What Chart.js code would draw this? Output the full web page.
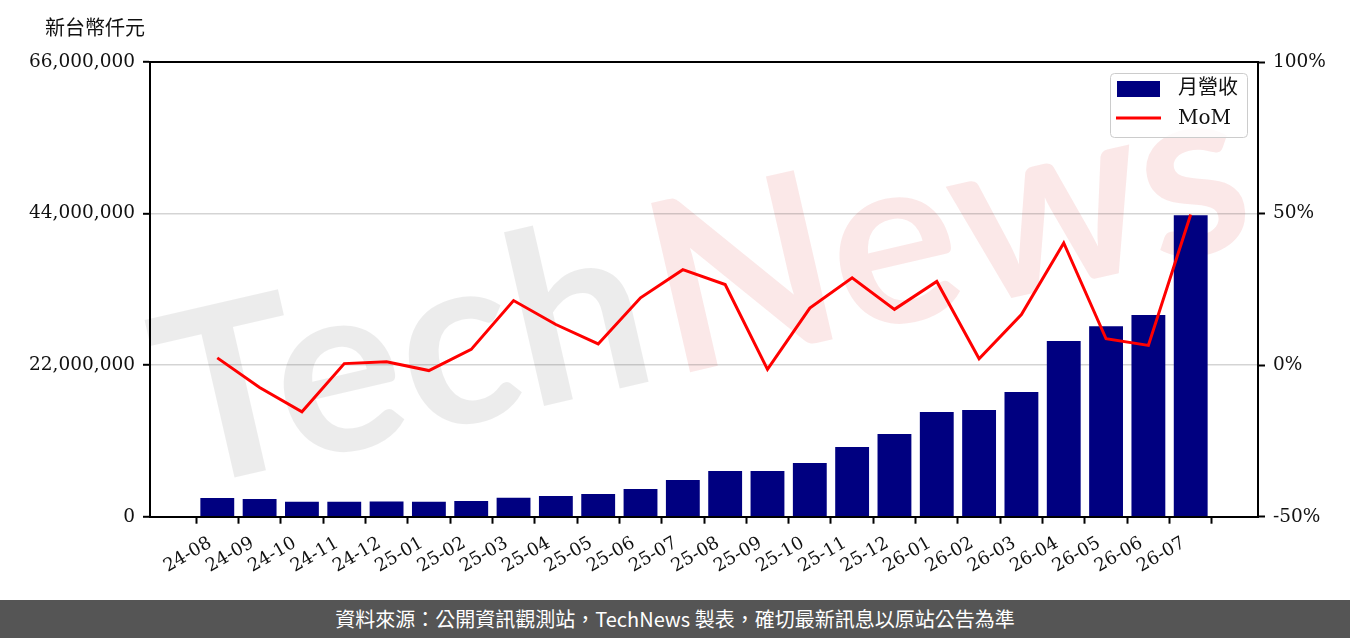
<!DOCTYPE html>
<html>
<head>
<meta charset="utf-8">
<script src="https://cdn.jsdelivr.net/npm/chart.js@4.4.1/dist/chart.umd.min.js"></script>
<style>
  html, body { margin: 0; padding: 0; background: #fff; overflow: hidden; }
  #wrap { width: 1350px; height: 600px; position: relative; }
  #footer { width: 1350px; height: 38px; background: #555555; color: #fff;
    font: 20px "Noto Sans CJK TC", "Noto Sans", sans-serif; line-height: 38px; text-align: center; }
</style>
</head>
<body>
<div id="wrap"><canvas id="c" width="1350" height="600"></canvas></div>
<div id="footer">資料來源：公開資訊觀測站，TechNews 製表，確切最新訊息以原站公告為準</div>
<script>
// ---- data ----
const categories = ["24-08","24-09","24-10","24-11","24-12","25-01","25-02","25-03","25-04","25-05","25-06","25-07",
  "25-08","25-09","25-10","25-11","25-12","26-01","26-02","26-03","26-04","26-05","26-06","26-07"];
const revenue = [2710000, 2570000, 2170000, 2180000, 2200000, 2160000, 2270000, 2740000, 3000000, 3290000, 4020000, 5320000,
  6630000, 6630000, 7790000, 10100000, 12000000, 15190000, 15480000, 18090000, 25490000, 27660000, 29260000, 43770000];
const mom = [2.4, -7.4, -15.4, 0.5, 1.1, -1.8, 5.2, 21.3, 13.4, 7.0, 22.2, 31.5,
  26.6, -1.4, 18.8, 28.8, 18.4, 27.6, 2.1, 16.7, 40.3, 8.7, 6.5, 49.7];
const leftTicks = [0, 22000000, 44000000, 66000000];
const rightTicks = [-50, 0, 50, 100];
const seriesNames = ["月營收", "MoM"];
const unitLabel = "新台幣仟元";
const watermarkParts = ["Tech", "News"];

// ---- styles ----
const NAVY = "#000080", RED = "#ff0000";
const SERIF = "'DejaVu Serif', 'Noto Sans CJK TC', serif";
const yFont = { family: SERIF, size: 18.5 };
const xFont = { family: SERIF, size: 18 };

const n = categories.length;
const xPad = 0.4 + 0.05 * (n - 1 + 0.8);

const framePlugin = {
  id: 'frame',
  beforeDraw(chart) {
    const ctx = chart.ctx;
    ctx.save();
    ctx.translate(180, 490);
    ctx.rotate(-13 * Math.PI / 180);
    ctx.font = "bold 240px Lato";
    ctx.textBaseline = "alphabetic";
    ctx.fillStyle = "rgba(0,0,0,0.075)";
    ctx.fillText(watermarkParts[0], 0, 0);
    const w0 = ctx.measureText(watermarkParts[0]).width;
    ctx.fillStyle = "rgba(220,50,50,0.11)";
    ctx.fillText(watermarkParts[1], w0 + 10, 0);
    ctx.restore();
  },
  afterDraw(chart) {
    const ctx = chart.ctx, ca = chart.chartArea;
    ctx.save();
    // top frame line
    ctx.strokeStyle = "#000"; ctx.lineWidth = 2;
    ctx.beginPath(); ctx.moveTo(ca.left - 1, ca.top); ctx.lineTo(ca.right + 1, ca.top); ctx.stroke();
    // unit label
    ctx.fillStyle = "#111";
    ctx.font = "20px 'Noto Sans CJK TC'";
    ctx.textBaseline = "middle"; ctx.textAlign = "left";
    ctx.fillText(unitLabel, 45, 27);
    // legend
    const w = 137, h = 64;
    const lx = ca.right - 11 - w, ly = ca.top + 11;
    ctx.fillStyle = "rgba(255,255,255,0.85)";
    ctx.strokeStyle = "#cccccc"; ctx.lineWidth = 1;
    ctx.beginPath();
    if (ctx.roundRect) ctx.roundRect(lx + 0.5, ly + 0.5, w, h, 4); else ctx.rect(lx + 0.5, ly + 0.5, w, h);
    ctx.fill(); ctx.stroke();
    const ds = chart.data.datasets;
    ctx.fillStyle = ds[1].backgroundColor;
    ctx.fillRect(lx + 7, ly + 8, 43, 16);
    ctx.strokeStyle = ds[0].borderColor; ctx.lineWidth = 3;
    ctx.beginPath(); ctx.moveTo(lx + 6, ly + 45); ctx.lineTo(lx + 51, ly + 45); ctx.stroke();
    ctx.fillStyle = "#111";
    ctx.font = "20px " + SERIF;
    ctx.fillText(ds[1].label, lx + 68, ly + 16);
    ctx.fillText(ds[0].label, lx + 68, ly + 46);
    ctx.restore();
  }
};

new Chart(document.getElementById('c'), {
  type: 'bar',
  data: {
    datasets: [
      {
        type: 'line', label: seriesNames[1], yAxisID: 'y2', order: 0,
        data: mom.map((v, i) => ({ x: i, y: v })),
        borderColor: RED, borderWidth: 3, pointRadius: 0, tension: 0, fill: false
      },
      {
        type: 'bar', label: seriesNames[0], yAxisID: 'y', order: 1,
        data: revenue.map((v, i) => ({ x: i, y: v })),
        backgroundColor: NAVY, borderWidth: 0,
        categoryPercentage: 1.0, barPercentage: 0.8
      }
    ]
  },
  options: {
    responsive: false, animation: false,
    layout: { padding: { top: 62, left: 0, right: 0, bottom: 0 } },
    plugins: { legend: { display: false }, tooltip: { enabled: false } },
    scales: {
      x: {
        type: 'linear', min: -xPad, max: n - 1 + xPad, offset: false,
        afterBuildTicks: s => { s.ticks = categories.map((c, i) => ({ value: i })); },
        afterFit: s => { s.height = 83.3; },
        ticks: { callback: v => categories[v], minRotation: 30, maxRotation: 30, autoSkip: false,
          font: xFont, color: '#111', padding: 9, labelOffset: -7 },
        grid: { drawOnChartArea: false, drawTicks: true, tickLength: 7, tickColor: '#000', tickWidth: 2 },
        border: { color: '#000', width: 2 }
      },
      y: {
        position: 'left', min: leftTicks[0], max: leftTicks[leftTicks.length - 1],
        afterBuildTicks: s => { s.ticks = leftTicks.map(v => ({ value: v })); },
        afterFit: s => { s.width = 150; },
        ticks: { callback: v => v.toLocaleString('en-US'), font: yFont, color: '#111', padding: 8 },
        grid: {
          color: c => (c.tick && (c.tick.value === leftTicks[0] || c.tick.value === leftTicks[leftTicks.length - 1])) ? 'rgba(0,0,0,0)' : 'rgba(0,0,0,0.17)',
          lineWidth: 1.6, tickLength: 7, tickColor: '#000', tickWidth: 2
        },
        border: { color: '#000', width: 2 }
      },
      y2: {
        position: 'right', min: rightTicks[0], max: rightTicks[rightTicks.length - 1],
        afterBuildTicks: s => { s.ticks = rightTicks.map(v => ({ value: v })); },
        afterFit: s => { s.width = 92; },
        ticks: { callback: v => v + '%', font: yFont, color: '#111', padding: 8 },
        grid: { drawOnChartArea: false, tickLength: 7, tickColor: '#000', tickWidth: 2 },
        border: { color: '#000', width: 2 }
      }
    }
  },
  plugins: [framePlugin]
});
</script>
</body>
</html>
